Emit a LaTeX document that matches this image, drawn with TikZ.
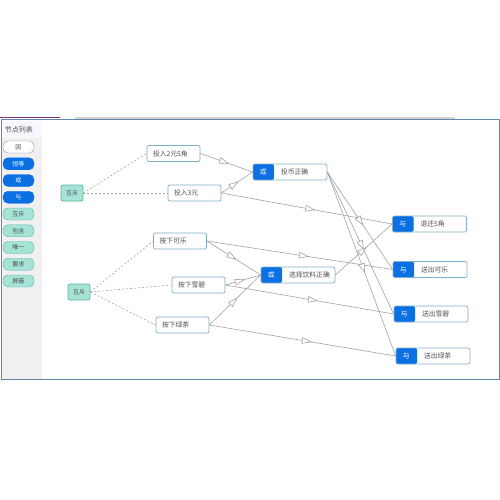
\documentclass[tikz,border=0pt]{standalone}
\usepackage{fontspec}
\setmainfont{Noto Sans CJK SC}
\usepackage{tikz}
\usetikzlibrary{positioning,arrows.meta,decorations.markings}
\definecolor{GateBlue}{HTML}{0A70E4}
\definecolor{MutexMint}{HTML}{A4E3D5}
\definecolor{MutexEdge}{HTML}{5DB3A3}
\definecolor{BoxEdge}{HTML}{7FAEC6}
\definecolor{LinkGray}{HTML}{A2A2A2}
\definecolor{FrameBlue}{HTML}{6388AE}
\definecolor{TextGray}{HTML}{505050}

\begin{document}
\begin{tikzpicture}[x=1pt, y=-1pt,
                    every node/.style={text=TextGray, font=\fontsize{6.8}{8}\selectfont},
                    causebox/.style={draw=BoxEdge, line width=0.7pt, fill=white, rounded corners=2pt,
                                     minimum height=16pt, text width=41pt, inner xsep=6pt, inner ysep=0pt,
                                     align=left},
                    gatebox/.style={draw=BoxEdge, line width=0.7pt, fill=white, rounded corners=2pt,
                                    minimum height=16pt, text width=74pt, inner xsep=0pt, inner ysep=0pt,
                                    align=left, execute at begin node={\hspace*{28pt}},
                                    path picture={\fill[GateBlue] (path picture bounding box.north west)
                                      rectangle ([xshift=21pt]path picture bounding box.south west);},
                                    label={[text=white, anchor=center, xshift=10.5pt]west:#1}},
                    mutex/.style={draw=MutexEdge, line width=0.7pt, fill=MutexMint, rounded corners=2pt,
                                  minimum width=22pt, minimum height=16pt, inner sep=0pt,
                                  font=\fontsize{6}{7}\selectfont},
                    sideitem/.style={rounded corners=5pt, minimum width=31pt, minimum height=12pt,
                                     inner sep=0pt, font=\fontsize{6}{6}\selectfont},
                    plainitem/.style={sideitem, draw=gray!80, fill=white},
                    gateitem/.style={sideitem, draw=GateBlue, fill=GateBlue, text=white},
                    mintitem/.style={sideitem, draw=MutexEdge, fill=MutexMint},
                    tie/.style={draw=LinkGray, line width=0.6pt, dash pattern=on 2pt off 2pt},
                    link/.style={draw=LinkGray, line width=0.6pt, postaction={decorate},
                                 decoration={markings, mark=at position 0.55 with
                                   {\arrow{Triangle[length=10pt, width=6.5pt, fill=white]}}}}]
\useasboundingbox (0,0) rectangle (500,500);

% window and node list
\draw[violet!60!gray, line width=1.5pt] (0,117.5) -- (60,117.5);
\draw[gray!35, line width=2pt] (75,118) -- (455,118);
\fill[gray!12] (2,138) rectangle (42,378.5);
\fill[blue!3] (2,120.5) rectangle (42,138);
\draw[FrameBlue, line width=0.8pt] (1,119.5) rectangle (499,379);
\node[font=\fontsize{7}{8}\selectfont] (paneltitle) at (19,130) {节点列表};
\foreach \sty/\lbl [count=\i] in {plainitem/因, gateitem/恒等, gateitem/或, gateitem/与,
                                  mintitem/互斥, mintitem/包含, mintitem/唯一, mintitem/要求, mintitem/屏蔽}
  \node[\sty] (item\i) at (18.5,130.25+16.75*\i) {\lbl};

% causes
\node[mutex] (mx1) at (72,193) {互斥};
\node[causebox] (yuan25) at (173.5,153.5) {投入2元5角};
\node[causebox] (yuan3) at (194.5,193) {投入3元};
\node[mutex] (mx2) at (79,292) {互斥};
\node[causebox] (cola) at (180,241) {按下可乐};
\node[causebox] (sprite) at (198.5,285) {按下雪碧};
\node[causebox] (tea) at (182.5,325) {按下绿茶};

% gates and effects
\node[gatebox=或] (coin) at (290,172) {投币正确};
\node[gatebox=或] (drink) at (298,275) {选择饮料正确};
\node[gatebox=与] (refund) at (429.5,224) {退还5角};
\node[gatebox=与] (outcola) at (430,269.5) {送出可乐};
\node[gatebox=与] (outsprite) at (431,314) {送出雪碧};
\node[gatebox=与] (outtea) at (433,356) {送出绿茶};

\draw[tie] (mx1.east) -- (yuan25.west);
\draw[tie] (mx1.east) -- (yuan3.west);
\draw[tie] (mx2.east) -- (cola.west);
\draw[tie] (mx2.east) -- (sprite.west);
\draw[tie] (mx2.east) -- (tea.west);

\draw[link] (yuan25.east) -- (coin.west);
\draw[link] (yuan3.east) -- (coin.west);
\draw[link] (yuan3.east) -- (refund.west);
\draw[link] (cola.east) -- (drink.west);
\draw[link] (sprite.east) -- (drink.west);
\draw[link] (tea.east) -- (drink.west);
\draw[link] (cola.east) -- (outcola.west);
\draw[link] (sprite.east) -- (outsprite.west);
\draw[link] (tea.east) -- (outtea.west);
\draw[link] (coin.east) -- (outcola.west);
\draw[link] (coin.east) -- (outsprite.west);
\draw[link] (coin.east) -- (outtea.west);
\draw[link] (drink.east) -- (refund.west);
\end{tikzpicture}
\end{document}
